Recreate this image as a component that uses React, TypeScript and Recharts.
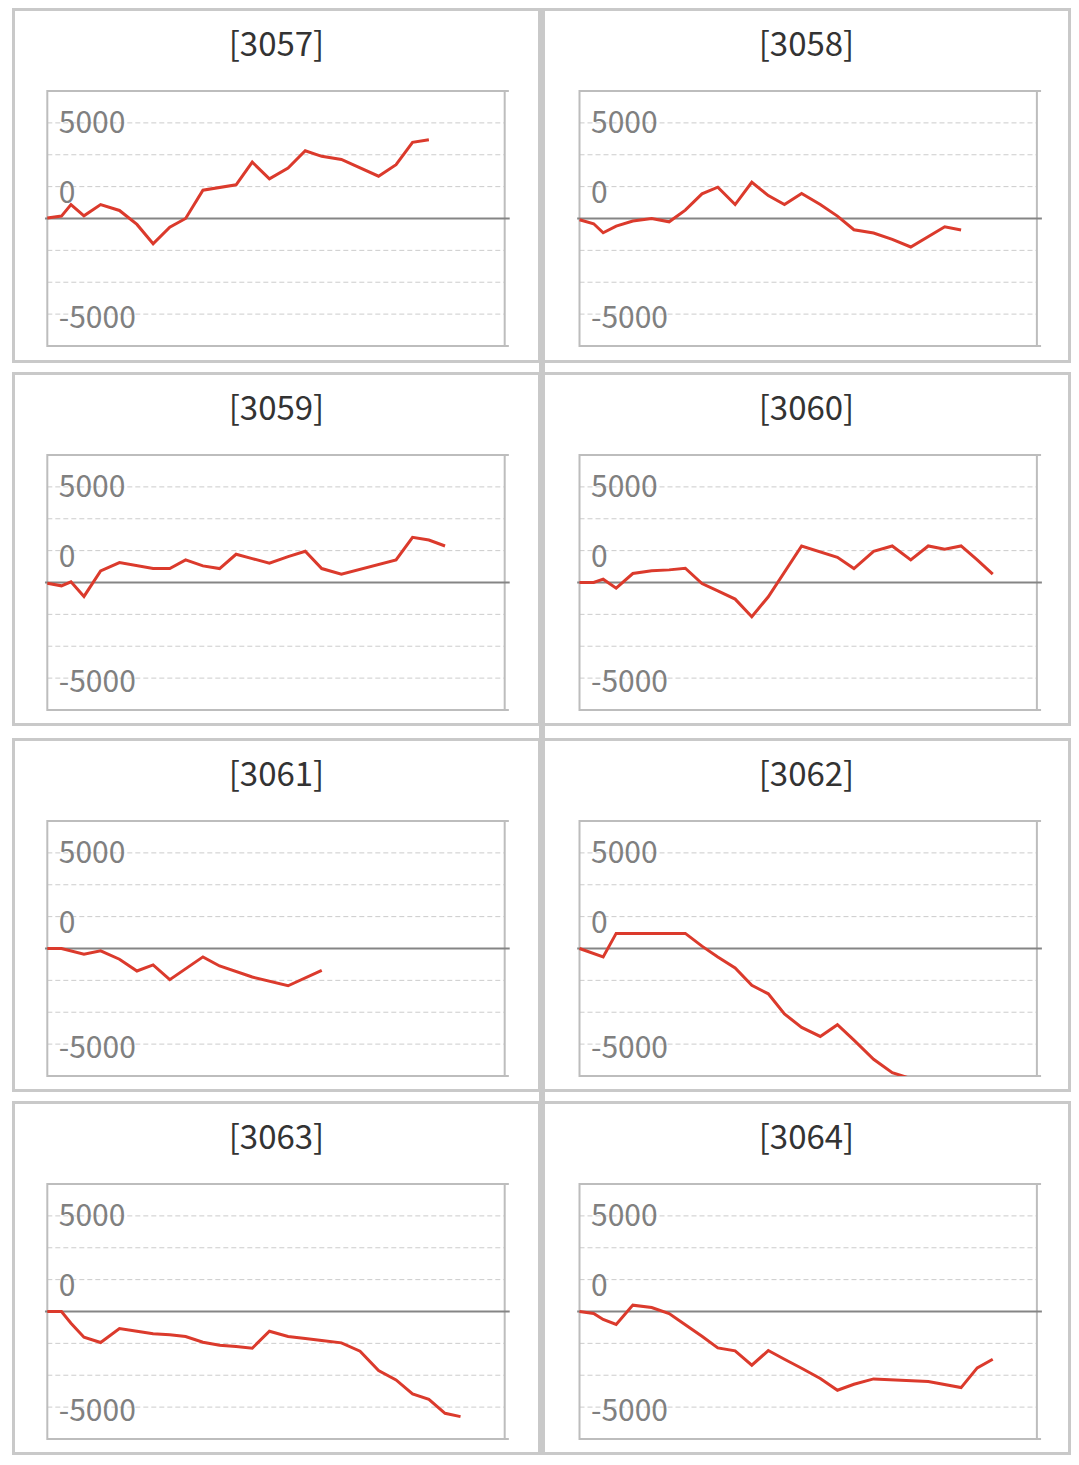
import React from 'react';
import { LineChart, Line, XAxis, YAxis, CartesianGrid, ReferenceLine, ReferenceArea } from 'recharts';

// shared x positions (day offsets)
const days = [0, 0.85, 1.42, 2.2, 3.2, 4.33, 5.38, 6.35, 7.35, 8.3, 9.34, 10.34, 11.33, 12.3, 13.33, 14.45, 15.48, 16.47, 17.65, 18.77, 19.88, 20.93, 21.92, 22.9, 23.87, 24.8];

const values3057 = [30, 125, 730, 140, 730, 420, -310, -1320, -450, 0, 1480, null, 1760, 2950, 2070, 2640, 3540, 3250, 3090, null, 2210, 2810, 3980, 4120];
const values3058 = [-68, -276, -745, -396, -135, 0, -172, 438, 1287, 1636, 730, 1896, 1198, 730, 1303, 730, 125, -589, -761, -1094, -1490, null, -432, -604];
const values3059 = [-35, -174, 35, -729, 608, 1042, null, 729, 729, 1180, 868, 729, 1476, 1250, 1007, 1354, 1632, 729, 434, null, null, 1180, 2361, 2222, 1910];
const values3060 = [0, 0, 174, -295, 469, 608, 660, 747, -52, -434, -868, -1788, -746, null, 1910, null, 1319, 729, 1632, 1910, 1180, 1910, 1736, 1910, 1180, 434];
const values3061 = [0, 0, null, -298, -123, -562, -1176, -860, -1632, null, -439, -913, null, -1492, null, -1948, null, -1141];
const values3062 = [0, null, -439, 790, null, null, null, 790, 123, -439, -1018, -1930, -2369, -3422, -4124, -4598, -3984, -4791, -5792, -6494, -6800];
const values3063 = [0, 0, -611, -1344, -1623, -890, -1030, -1169, -1222, -1309, -1605, -1762, -1832, -1920, -1030, -1309, -1413, -1518, -1640, -2077, -3089, -3577, -4310, -4589, -5322, -5497];
const values3064 = [0, -105, -419, -681, 332, 209, -105, -698, -1291, -1902, -2059, -2810, -2042, -2495, -2967, -3507, -4118, -3804, -3525, null, null, -3665, null, -3979, -2949, -2495];

const titles = ['[3057]', '[3058]', '[3059]', '[3060]', '[3061]', '[3062]', '[3063]', '[3064]'];
const seriesList = [values3057, values3058, values3059, values3060, values3061, values3062, values3063, values3064];

const gridTicks = [-6667, -5000, -3333, -1667, 0, 1667, 3333, 5000, 6667];
// axis labels as drawn in the picture: text, the gridline it sits on, and a small vertical nudge
const labelTexts = ['5000', '0', '-5000'];
const labelAt = [5000, 1667, -5000];
const labelNudge = [-1, 5.5, 3.5];

const X_MAX = 27.45;
const Y_MIN = -6667;
const Y_MAX = 6667;

const FONT = '"Noto Sans CJK JP", "Noto Sans", sans-serif';
const RED = '#db3a2c';

const colLeft = [12, 542];
const rowTop = [8.3, 371.6, 737.9, 1100.6];
const plotLeft = [32.3, 34.5];
const PANEL_W = 529;
const PANEL_H = 354.4;
const BORDER = 3;
const PLOT_W = 457.4;
const PLOT_H = 255;
const PLOT_TOP = 80;

const Panel = ({ title, values, col, row }) => {
    const data = days
        .map((d, i) => ({ day: d, v: values[i] }))
        .filter((p) => p.v !== undefined && p.v !== null);
    const innerW = PANEL_W - 2 * BORDER;
    const innerH = PANEL_H - 2 * BORDER;
    const left = plotLeft[col];

    return (
        <div
            style={{
                position: 'absolute',
                left: colLeft[col],
                top: rowTop[row],
                width: PANEL_W,
                height: PANEL_H,
                boxSizing: 'border-box',
                border: `${BORDER}px solid #c9c9c9`,
                background: '#fff',
            }}
        >
            <div
                style={{
                    position: 'absolute',
                    top: 11,
                    left: 0,
                    width: innerW,
                    textAlign: 'center',
                    fontFamily: FONT,
                    fontSize: 33,
                    lineHeight: '40px',
                    color: '#333',
                }}
            >
                {title}
            </div>
            <LineChart
                width={innerW}
                height={innerH}
                data={data}
                margin={{ top: PLOT_TOP, left: left, right: innerW - left - PLOT_W, bottom: innerH - PLOT_TOP - PLOT_H }}
            >
                <CartesianGrid vertical={false} stroke="#cccccc" strokeDasharray="5 3" />
                <XAxis dataKey="day" type="number" domain={[0, X_MAX]} hide />
                <YAxis width={0} domain={[Y_MIN, Y_MAX]} ticks={gridTicks} allowDataOverflow hide />
                <ReferenceArea x1={0} x2={X_MAX} y1={Y_MIN} y2={Y_MAX} fill="none" stroke="#bdbdbd" strokeWidth={2} ifOverflow="visible" />
                <ReferenceLine segment={[{ x: X_MAX, y: Y_MAX }, { x: X_MAX + 0.25, y: Y_MAX }]} stroke="#bdbdbd" strokeWidth={2} ifOverflow="visible" />
                <ReferenceLine segment={[{ x: X_MAX, y: Y_MIN }, { x: X_MAX + 0.25, y: Y_MIN }]} stroke="#bdbdbd" strokeWidth={2} ifOverflow="visible" />
                <ReferenceLine segment={[{ x: -0.14, y: 0 }, { x: X_MAX + 0.3, y: 0 }]} stroke="#858585" strokeWidth={2} ifOverflow="visible" />
                {labelTexts.map((txt, i) => (
                    <ReferenceLine
                        key={txt}
                        y={labelAt[i]}
                        stroke="none"
                        label={{
                            value: txt,
                            position: 'insideLeft',
                            offset: 11.5,
                            dy: labelNudge[i],
                            fill: '#808080',
                            fontSize: 30,
                            fontFamily: FONT,
                        }}
                    />
                ))}
                <Line type="linear" dataKey="v" stroke={RED} strokeWidth={3} dot={false} activeDot={false} isAnimationActive={false} />
            </LineChart>
        </div>
    );
};

const App = () => {
    return (
        <div style={{ position: 'absolute', left: 0, top: 0, width: 1079, height: 1465, background: '#fff' }}>
            <div style={{ position: 'absolute', left: 539.3, top: 8.3, width: 5.7, height: 1447, background: '#c9c9c9' }} />
            {titles.map((t, i) => (
                <Panel key={t} title={t} values={seriesList[i]} col={i % 2} row={Math.floor(i / 2)} />
            ))}
        </div>
    );
};

export default App;
